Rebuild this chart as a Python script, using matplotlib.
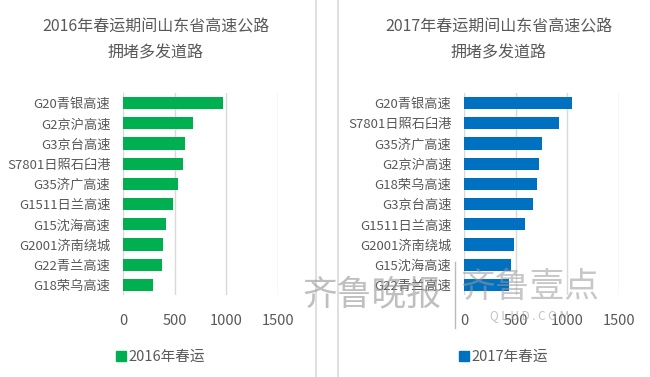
import matplotlib
matplotlib.use("Agg")
import matplotlib.pyplot as plt
from matplotlib.lines import Line2D

plt.rcParams['font.family'] = ['Noto Sans CJK SC', 'DejaVu Sans']

# 2016 data
roads_2016 = ["G20青银高速", "G2京沪高速", "G3京台高速", "S7801日照石臼港", "G35济广高速",
              "G1511日兰高速", "G15沈海高速", "G2001济南绕城", "G22青兰高速", "G18荣乌高速"]
vals_2016 = [970, 674, 596, 580, 534, 485, 412, 385, 382, 291]

# 2017 data
roads_2017 = ["G20青银高速", "S7801日照石臼港", "G35济广高速", "G2京沪高速", "G18荣乌高速",
              "G3京台高速", "G1511日兰高速", "G2001济南绕城", "G15沈海高速", "G22青兰高速"]
vals_2017 = [1049, 918, 750, 730, 704, 672, 594, 487, 451, 438]

titles = ["2016年春运期间山东省高速公路\n拥堵多发道路", "2017年春运期间山东省高速公路\n拥堵多发道路"]
legends = ["2016年春运", "2017年春运"]
xticks = [0, 500, 1000, 1500]

W, H = 650, 377
TXT = "#595959"
GRID = "#d9d9d9"

fig = plt.figure(figsize=(6.5, 3.77), dpi=100)
fig.patch.set_facecolor("white")


def px(x0, y0, w, h):
    # pixel box (top-left origin) -> figure fraction
    return [x0 / W, 1 - (y0 + h) / H, w / W, h / H]


panels = [
    (roads_2016, vals_2016, "#00b050", 123, titles[0], legends[0], 156),
    (roads_2017, vals_2017, "#0070c0", 464, titles[1], legends[1], 499),
]

for roads, vals, color, left, title, leg, cx in panels:
    ax = fig.add_axes(px(left, 93, 155, 202))
    ax.barh(range(len(roads)), vals, height=0.6, color=color, label=leg, zorder=3)
    ax.set_ylim(len(roads) - 0.5, -0.5)
    ax.set_xlim(0, 1500)
    ax.set_xticks(xticks)
    ax.set_yticks(range(len(roads)))
    ax.set_yticklabels(roads)
    ax.tick_params(length=0, labelsize=9.5, labelcolor=TXT)
    ax.tick_params(axis="y", pad=9)
    ax.tick_params(axis="x", pad=14, labelsize=10.5)
    for s in ax.spines.values():
        s.set_visible(False)
    ax.grid(axis="x", color=GRID, lw=1, zorder=0)
    ax.set_facecolor("none")
    fig.text(cx / W, 1 - 40 / H, title, ha="center", va="center",
             fontsize=11.5, color=TXT, linespacing=1.75)
    handle = Line2D([], [], marker="s", ls="none", color=color, markersize=7)
    fig.legend([handle], [leg], loc="center", bbox_to_anchor=(cx / W + 0.006, 1 - 357 / H),
               frameon=False, fontsize=10.5, labelcolor=TXT, handletextpad=0.1,
               handlelength=0.8, borderaxespad=0)

# panel borders
for xb in (316, 338):
    fig.add_artist(Line2D([xb / W, xb / W], [0, 1], color=GRID, lw=1.2))

# watermark
fig.text(372 / W, 1 - 295 / H, "齐鲁晚报", ha="center", va="center", fontsize=25,
         color="#8c8c8c", alpha=0.55, style="italic")
fig.add_artist(Line2D([455 / W, 455 / W], [1 - 328 / H, 1 - 262 / H], color="#8c8c8c", lw=1, alpha=0.6))
fig.text(530 / W, 1 - 287 / H, "齐鲁壹点", ha="center", va="center", fontsize=25,
         color="#9a9a9a", alpha=0.55)
fig.text(530 / W, 1 - 316 / H, "Q L U D . C O M", ha="center", va="center", fontsize=8.5,
         color="#9a9a9a", alpha=0.6)

fig.savefig("out.png", dpi=100, facecolor="white")
